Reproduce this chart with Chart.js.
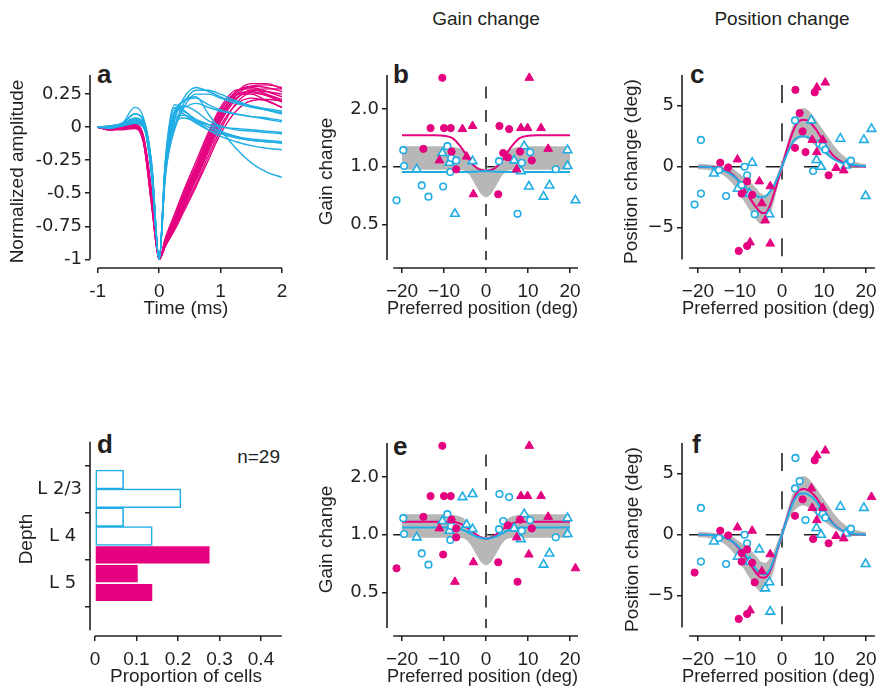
<!DOCTYPE html>
<html>
<head>
<meta charset="utf-8">
<script src="https://cdn.jsdelivr.net/npm/chart.js@4.4.1/dist/chart.umd.min.js"></script>
<style>
  body { margin: 0; background: #fff; width: 888px; height: 692px; overflow: hidden; position: relative;
         font-family: "Liberation Sans", Arial, sans-serif; color: #231f20; }
  canvas { position: absolute; }
  .letter { position: absolute; font-weight: bold; font-size: 26px; line-height: 26px; }
  .head { position: absolute; width: 220px; text-align: center; font-size: 19px; line-height: 22px; }
  .note { position: absolute; font-size: 19px; line-height: 20px; }
</style>
</head>
<body>
<div class="head" style="left:376px; top:8px;">Gain change</div>
<div class="head" style="left:672px; top:8px;">Position change</div>
<div class="letter" style="left:97px; top:61px;">a</div>
<div class="letter" style="left:393px; top:61px;">b</div>
<div class="letter" style="left:690px; top:61px;">c</div>
<div class="letter" style="left:97px; top:431px;">d</div>
<div class="letter" style="left:393px; top:433px;">e</div>
<div class="letter" style="left:692px; top:431px;">f</div>
<div class="note" style="right:608px; top:447px;">n=29</div>

<canvas id="pa"></canvas>
<canvas id="pb"></canvas>
<canvas id="pc"></canvas>
<canvas id="pd"></canvas>
<canvas id="pe"></canvas>
<canvas id="pf"></canvas>

<script>
// ---- panel a: spike waveforms (normalized amplitude vs time, ms)
const aTime = [-1, -0.8, -0.6, -0.4, -0.25, -0.12, 0, 0.1, 0.25, 0.4, 0.6, 0.8, 1.0, 1.25, 1.5, 1.75, 2.0];
const broadSpikes = [
  [0, -0.01, 0.00, 0.02, -0.10, -0.55, -1, -0.90, -0.75, -0.58, -0.38, -0.16, 0.05, 0.24, 0.31, 0.32, 0.30],
  [0, -0.01, 0.01, 0.02, -0.08, -0.50, -1, -0.88, -0.72, -0.55, -0.33, -0.12, 0.09, 0.26, 0.31, 0.30, 0.27],
  [0, 0.00, 0.01, 0.01, -0.11, -0.58, -1, -0.86, -0.70, -0.52, -0.30, -0.08, 0.12, 0.27, 0.30, 0.27, 0.23],
  [0, -0.02, -0.01, 0.00, -0.13, -0.60, -1, -0.90, -0.77, -0.62, -0.43, -0.22, -0.02, 0.18, 0.27, 0.29, 0.29],
  [0, -0.01, 0.00, 0.02, -0.09, -0.52, -1, -0.84, -0.66, -0.48, -0.26, -0.04, 0.15, 0.28, 0.29, 0.25, 0.21],
  [0, -0.02, -0.02, -0.01, -0.12, -0.56, -1, -0.88, -0.74, -0.57, -0.36, -0.14, 0.07, 0.22, 0.26, 0.24, 0.20],
  [0, -0.01, 0.00, 0.01, -0.10, -0.53, -1, -0.87, -0.71, -0.54, -0.32, -0.10, 0.10, 0.24, 0.27, 0.24, 0.19],
  [0, -0.02, -0.01, 0.01, -0.12, -0.59, -1, -0.89, -0.76, -0.60, -0.40, -0.19, 0.01, 0.17, 0.22, 0.20, 0.15],
  [0, -0.01, 0.01, 0.02, -0.08, -0.50, -1, -0.85, -0.68, -0.50, -0.29, -0.06, 0.13, 0.25, 0.25, 0.20, 0.15],
  [0, -0.01, -0.01, 0.00, -0.11, -0.57, -1, -0.90, -0.78, -0.64, -0.45, -0.25, -0.05, 0.12, 0.20, 0.21, 0.20],
  [0, 0.00, 0.00, 0.01, -0.10, -0.54, -1, -0.87, -0.73, -0.56, -0.35, -0.13, 0.08, 0.26, 0.33, 0.33, 0.29],
  [0, -0.02, -0.01, 0.00, -0.12, -0.60, -1, -0.90, -0.76, -0.60, -0.39, -0.17, 0.04, 0.21, 0.28, 0.27, 0.25]
];
const narrowSpikes = [
  [0, 0.01, 0.03, 0.15, 0.06, -0.30, -1, -0.35, 0.05, 0.22, 0.30, 0.27, 0.23, 0.19, 0.16, 0.14, 0.12],
  [0, 0.00, 0.02, 0.10, 0.04, -0.33, -1, -0.38, 0.00, 0.18, 0.28, 0.28, 0.25, 0.20, 0.16, 0.13, 0.10],
  [0, 0.00, 0.02, 0.06, 0.02, -0.30, -1, -0.30, 0.10, 0.20, 0.22, 0.17, 0.13, 0.10, 0.08, 0.06, 0.04],
  [0, 0.01, 0.02, 0.04, 0.01, -0.36, -1, -0.25, 0.17, 0.13, 0.05, 0.02, 0.00, -0.01, -0.02, -0.03, -0.04],
  [0, 0.00, 0.02, 0.05, 0.01, -0.32, -1, -0.28, 0.14, 0.10, 0.03, -0.02, -0.05, -0.08, -0.10, -0.11, -0.12],
  [0, -0.01, 0.01, 0.03, 0.00, -0.38, -1, -0.32, 0.06, 0.09, 0.05, 0.00, -0.04, -0.07, -0.10, -0.11, -0.12],
  [0, 0.00, 0.01, 0.03, -0.01, -0.35, -1, -0.35, 0.02, 0.07, 0.04, -0.02, -0.07, -0.11, -0.14, -0.16, -0.17],
  [0, 0.00, 0.02, 0.07, 0.03, -0.30, -1, -0.33, 0.08, 0.20, 0.23, 0.10, -0.02, -0.16, -0.27, -0.34, -0.38],
  [0, 0.01, 0.03, 0.10, 0.05, -0.28, -1, -0.36, -0.02, 0.15, 0.25, 0.25, 0.22, 0.18, 0.15, 0.13, 0.11],
  [0, 0.00, 0.02, 0.05, 0.02, -0.34, -1, -0.30, 0.10, 0.15, 0.18, 0.15, 0.12, 0.10, 0.08, 0.07, 0.05],
  [0, 0.00, 0.01, 0.04, 0.01, -0.37, -1, -0.27, 0.15, 0.12, 0.06, 0.02, -0.03, -0.07, -0.09, -0.10, -0.11],
  [0, 0.00, 0.02, 0.05, 0.02, -0.31, -1, -0.29, 0.12, 0.16, 0.12, 0.05, 0.01, -0.02, -0.03, -0.04, -0.05]
];
const aXTicks = [-1, 0, 1, 2];
const aYTicks = [0.25, 0, -0.25, -0.5, -0.75, -1];

// ---- panels b, e: gain change vs preferred position (same cells, coloured two ways)
const gainPos = [-10.4, -13.2, -10.0, -8.4, 3.2, 5.5, -14.9, -8.2, -7.1, 4.1, 5.2, 8.1, 10.9, 2.9,
  10.3, -5.6, -3.2, 8.3, 9.9, 13.1, 14.8, -11.1, -4.6, -3.0, 7.3,
  -19.7, -19.5, -21.3, -15.3, -13.7, -10.2, -9.2, -8.3, -7.1, -8.5, 3.1, 7.5, 10.5, 8.5, 16.6,
  -16.5, -10.4, -8.7, -7.4, -3.2, 9.1, 6.7, 8.3, 10.2, 15.1, 13.7, 19.4, 19.4, 21.3];
const gainVal = [2.9, 1.59, 1.59, 1.59, 1.63, 1.57, 1.24, 1.2, 0.97, 1.18, 1.12, 1.2, 1.08, 0.72,
  2.9, 1.57, 1.63, 1.59, 1.59, 1.59, 1.24, 1.08, 1.13, 0.72, 0.97,
  1.22, 1.01, 0.67, 0.80, 0.70, 0.79, 1.28, 1.11, 1.08, 0.94, 1.07, 0.57, 1.19, 1.05, 0.97,
  0.97, 1.18, 1.05, 0.57, 1.07, 1.28, 1.08, 0.95, 0.79, 0.80, 0.70, 1.22, 1.01, 0.67];
const gainMark   = 'oooooooooooooo' + 'ttttttttttt' + 'ooooooooooooooo' + 'tttttttttttttt';
const gainGroupB = 'mmmmmmmmmmmmmm' + 'mmmmmmmmmmm' + 'ccccccccccccccc' + 'cccccccccccccc';
const gainGroupE = 'mmmmccmmmcmmmm' + 'mccmmmmmcmm' + 'ccmccmccmccmccc' + 'cccmccccmccccm';

// fitted curves and shuffled-control band, sampled on this grid (deg)
const fitGrid = [-20, -18, -16, -14, -12, -10, -8, -6, -5, -4, -3, -2, -1, 0, 1, 2, 3, 4, 5, 6, 8, 10, 12, 14, 16, 18, 20];
const gainFitMagB  = [1.46, 1.46, 1.46, 1.46, 1.46, 1.45, 1.41, 1.27, 1.18, 1.09, 1.02, 0.98, 0.96, 0.955, 0.96, 0.98, 1.02, 1.09, 1.18, 1.27, 1.41, 1.45, 1.46, 1.46, 1.46, 1.46, 1.46];
const gainFitCyanB = [0.94, 0.94, 0.94, 0.94, 0.94, 0.94, 0.94, 0.94, 0.94, 0.94, 0.943, 0.946, 0.948, 0.95, 0.948, 0.946, 0.943, 0.94, 0.94, 0.94, 0.94, 0.94, 0.94, 0.94, 0.94, 0.94, 0.94];
const gainFitMagE  = [1.17, 1.17, 1.17, 1.17, 1.17, 1.17, 1.17, 1.14, 1.11, 1.07, 1.03, 0.99, 0.965, 0.955, 0.965, 0.99, 1.03, 1.07, 1.11, 1.14, 1.17, 1.17, 1.17, 1.17, 1.17, 1.17, 1.17];
const gainFitCyanE = [1.09, 1.09, 1.09, 1.09, 1.09, 1.09, 1.09, 1.07, 1.05, 1.02, 0.995, 0.975, 0.96, 0.955, 0.96, 0.975, 0.995, 1.02, 1.05, 1.07, 1.09, 1.09, 1.09, 1.09, 1.09, 1.09, 1.09];
const gainBandLow  = [0.965, 0.965, 0.965, 0.965, 0.965, 0.965, 0.965, 0.962, 0.95, 0.91, 0.84, 0.77, 0.715, 0.695, 0.715, 0.77, 0.84, 0.91, 0.95, 0.962, 0.965, 0.965, 0.965, 0.965, 0.965, 0.965, 0.965];
const gainBandHigh = [1.28, 1.28, 1.28, 1.28, 1.28, 1.28, 1.27, 1.24, 1.2, 1.13, 1.05, 1.0, 0.98, 0.975, 0.98, 1.0, 1.05, 1.13, 1.2, 1.24, 1.27, 1.28, 1.28, 1.28, 1.28, 1.28, 1.28];
const gainTicks = [0.5, 1, 2];
const posTicks = [-20, -10, 0, 10, 20];

// ---- panels c, f: position change vs preferred position
const shiftPos = [3.2, 7.8, -10.3, -8.3, -14.7, -12.8, -8.3, -9.6, -7.1, 4.2, 4.9, 3.1, 5.6, 11.1,
  10.3, 8.3, -7.6, -2.8, -10.6, -5.4, -2.8, -4.8, -4.0, 7.2, 9.7, 8.3, 12.9, 14.7,
  -19.3, -19.3, -20.8, -13.3, -8.9, -8.3, -9.6, -6.5, 3.1, 8.9, 9.7, 10.3, 7.4, 16.4, -15.0,
  -16.2, -7.1, -10.5, -7.7, -3.0, 7.0, 8.2, 9.3, 13.9, 19.5, 21.3, 19.9, 15.2];
const shiftVal = [6.3, 6.1, -6.9, -6.5, 0.33, -0.05, -1.2, -2.2, -2.3, 4.4, 2.9, 1.55, 1.2, -0.7,
  6.9, 6.5, -6.2, -6.3, 0.6, -1.2, -1.6, -3.0, -4.4, 2.2, 2.2, 1.2, -0.1, -0.3,
  2.2, -2.2, -3.1, -2.4, 0.0, -0.7, -1.5, -3.9, 3.8, 1.9, 1.7, 1.4, -0.35, 0.5, -0.27,
  -0.55, 0.33, -1.8, -2.2, -3.9, 3.8, 0.55, 0.0, 2.3, 2.2, 3.1, -2.4, 0.1];
const shiftMark   = 'oooooooooooooo' + 'tttttttttttttt' + 'ooooooooooooooo' + 'ttttttttttttt';
const shiftGroupC = 'mmmmmmmmmmmmmm' + 'mmmmmmmmmmmmmm' + 'ccccccccccccccc' + 'ccccccccccccc';
const shiftGroupF = 'cmmmmmmmmcmmcm' + 'mmmcmcmmcmmmmm' + 'ccmcccmmccccmcc' + 'cmcccmccccmcc';
const shiftFitMagC  = [0, 0, -0.05, -0.2, -0.55, -1.3, -2.4, -3.4, -3.75, -3.8, -3.3, -2.3, -1.2, 0, 1.2, 2.3, 3.2, 3.7, 3.85, 3.8, 3.1, 2.0, 1.0, 0.45, 0.15, 0.05, 0];
const shiftFitCyanC = [0, 0, -0.1, -0.3, -0.65, -1.25, -1.9, -2.4, -2.5, -2.45, -2.1, -1.6, -0.85, 0, 0.9, 1.65, 2.2, 2.45, 2.5, 2.45, 2.05, 1.3, 0.7, 0.35, 0.2, 0.1, 0.05];
const shiftFitMagF  = [0, 0, -0.05, -0.2, -0.5, -1.2, -2.2, -3.2, -3.5, -3.5, -3.1, -2.2, -1.1, 0, 1.15, 2.25, 3.1, 3.6, 3.75, 3.7, 3.1, 2.0, 1.0, 0.4, 0.12, 0.03, 0];
const shiftFitCyanF = [0, 0, -0.05, -0.2, -0.5, -1.1, -2.0, -2.9, -3.2, -3.25, -2.9, -2.1, -1.05, 0, 1.1, 2.1, 2.9, 3.3, 3.4, 3.35, 2.8, 1.8, 0.95, 0.4, 0.15, 0.05, 0];
const shiftBandLow  = [-0.2, -0.25, -0.4, -0.7, -1.3, -2.3, -3.4, -4.4, -4.7, -4.6, -4.0, -3.0, -1.6, -0.4, 0.7, 1.5, 2.0, 2.3, 2.4, 2.3, 1.7, 1.1, 0.6, 0.25, 0.05, -0.05, -0.1];
const shiftBandHigh = [0.2, 0.2, 0.15, 0, -0.1, -0.6, -1.1, -1.8, -2.2, -2.3, -2.0, -1.4, -0.5, 0.5, 1.6, 2.8, 3.8, 4.6, 4.8, 4.7, 3.9, 2.9, 1.9, 1.1, 0.6, 0.35, 0.2];
const shiftTicks = [-5, 0, 5];

// ---- panel d: depth histogram (7 bins, top to bottom)
const binSupra = [1, 2, 3, 4];
const propSupra = [0.069, 0.207, 0.069, 0.138];
const binInfra = [5, 6, 7];
const propInfra = [0.276, 0.103, 0.138];
const depthTicks = [1.5, 4, 6.5];
const depthLabels = ['L 2/3', 'L 4 ', 'L 5 '];
const propTicks = [0, 0.1, 0.2, 0.3, 0.4];

const MAG = '#e4007f', CYAN = '#1fade4', GREY = '#b7b7b7', INK = '#231f20';
const FONT = '"Liberation Sans", Arial, sans-serif';
const YTICK_FONT = '"DejaVu Sans", "Liberation Sans", sans-serif';
const XTICK_FONT = '"Liberation Sans Narrow", "Liberation Sans", Arial, sans-serif';
Chart.defaults.font.family = FONT;
Chart.defaults.color = INK;
Chart.defaults.animation = false;
Chart.defaults.plugins.legend.display = false;
Chart.defaults.plugins.tooltip.enabled = false;

const minus = v => v < 0 ? '\u2212' + Math.abs(v) : String(v);

// axis lines detached from each other, plus dashed reference lines
function frame(cfg) {
  return {
    id: 'frame',
    beforeDatasetsDraw(chart) {
      const { ctx, scales: { x, y } } = chart;
      ctx.save();
      ctx.strokeStyle = INK;
      ctx.lineWidth = 1.6;
      if (cfg.vZero) {
        ctx.setLineDash(cfg.vZero.dash);
        ctx.lineDashOffset = cfg.vZero.offset;
        const px = x.getPixelForValue(0);
        ctx.beginPath();
        ctx.moveTo(px, y.getPixelForValue(cfg.yLine[1]));
        ctx.lineTo(px, y.getPixelForValue(cfg.yLine[0]));
        ctx.stroke();
      }
      if (cfg.hRef) {
        ctx.setLineDash(cfg.hRef.dash);
        ctx.lineDashOffset = cfg.hRef.offset;
        const py = y.getPixelForValue(cfg.hRef.value);
        ctx.beginPath();
        ctx.moveTo(x.getPixelForValue(cfg.xLine[0]), py);
        ctx.lineTo(x.getPixelForValue(cfg.xLine[1]), py);
        ctx.stroke();
      }
      ctx.restore();
    },
    afterDraw(chart) {
      const { ctx, chartArea, scales: { x, y } } = chart;
      ctx.save();
      ctx.strokeStyle = INK;
      ctx.lineWidth = 1.6;
      ctx.beginPath();
      ctx.moveTo(chartArea.left, y.getPixelForValue(cfg.yLine[0]));
      ctx.lineTo(chartArea.left, y.getPixelForValue(cfg.yLine[1]));
      ctx.moveTo(x.getPixelForValue(cfg.xLine[0]), chartArea.bottom);
      ctx.lineTo(x.getPixelForValue(cfg.xLine[1]), chartArea.bottom);
      ctx.stroke();
      ctx.restore();
    }
  };
}

function axis(opts) {
  const vertical = opts.width !== undefined;
  return Object.assign({
    type: 'linear',
    afterBuildTicks: s => { s.ticks = opts.tickValues.map(v => ({ value: v })); },
    afterFit: s => { if (vertical) s.width = opts.width; else s.height = opts.height; },
    grid: { drawOnChartArea: false, drawTicks: true, tickLength: 5, color: INK, lineWidth: 1.5 },
    border: { display: false },
    ticks: { callback: opts.fmt, autoSkip: false, maxRotation: 0, color: INK,
             font: vertical ? { size: 18, family: YTICK_FONT } : { size: 19, family: XTICK_FONT },
             padding: vertical ? 3 : 7 },
    title: { display: true, text: opts.title, font: { size: 19 }, color: INK,
             padding: vertical ? { top: opts.titlePad, bottom: 0 } : { top: 0, bottom: opts.titlePad } }
  }, opts.extra || {});
}

// place a canvas and return layout numbers so the plot area lands where wanted
function place(id, box, area) {
  const cv = document.getElementById(id);
  cv.width = box.w; cv.height = box.h;
  cv.style.left = box.left + 'px'; cv.style.top = box.top + 'px';
  return {
    padding: { left: 0, top: area.t - box.top, right: box.left + box.w - area.r, bottom: 0 },
    yWidth: area.l - box.left,
    xHeight: box.top + box.h - area.b
  };
}

function markerSets(xs, ys, marks, groups) {
  const sets = [];
  [['m', 'o'], ['m', 't'], ['c', 'o'], ['c', 't']].forEach(([g, m]) => {
    const data = [];
    xs.forEach((x, i) => { if (groups[i] === g && marks[i] === m) data.push({ x, y: ys[i] }); });
    sets.push({
      data, showLine: false, clip: false, order: 1,
      pointStyle: m === 'o' ? 'circle' : 'triangle',
      pointRadius: m === 'o' ? (g === 'm' ? 3.6 : 3.3) : 5,
      backgroundColor: g === 'm' ? MAG : '#fff',
      borderColor: g === 'm' ? MAG : CYAN,
      borderWidth: g === 'm' ? 1 : 1.6
    });
  });
  return sets;
}

function curve(ys, color, order) {
  return { data: fitGrid.map((x, i) => ({ x, y: ys[i] })), showLine: true, pointRadius: 0,
           borderColor: color, borderWidth: 2, cubicInterpolationMode: 'monotone', fill: false, order };
}

function band(low, high) {
  return [
    { data: fitGrid.map((x, i) => ({ x, y: low[i] })), showLine: true, pointRadius: 0, borderWidth: 0,
      borderColor: GREY, cubicInterpolationMode: 'monotone', fill: false, order: 10 },
    { data: fitGrid.map((x, i) => ({ x, y: high[i] })), showLine: true, pointRadius: 0, borderWidth: 0,
      borderColor: GREY, backgroundColor: GREY, cubicInterpolationMode: 'monotone', fill: '-1', order: 10 }
  ];
}

// ---- a
(function () {
  const L = place('pa', { left: 0, top: 60, w: 300, h: 262 }, { l: 90, t: 75, r: 282, b: 268 });
  const sets = [];
  narrowSpikes.forEach(tr => sets.push({ data: tr.map((v, i) => ({ x: aTime[i], y: v })), borderColor: CYAN,
    borderWidth: 1.4, pointRadius: 0, cubicInterpolationMode: 'monotone', order: 1 }));
  broadSpikes.forEach(tr => sets.push({ data: tr.map((v, i) => ({ x: aTime[i], y: v })), borderColor: MAG,
    borderWidth: 1.4, pointRadius: 0, cubicInterpolationMode: 'monotone', order: 2 }));
  new Chart(document.getElementById('pa'), {
    type: 'line',
    data: { datasets: sets },
    options: {
      responsive: false, layout: { padding: L.padding },
      scales: {
        x: axis({ tickValues: aXTicks, fmt: v => String(v), title: 'Time (ms)', height: L.xHeight, titlePad: 1.6, extra: { min: -1.126, max: 2.0 } }),
        y: axis({ tickValues: aYTicks, fmt: v => String(v), title: 'Normalized amplitude', width: L.yWidth, titlePad: 6, extra: { min: -1.066, max: 0.395 } })
      }
    },
    plugins: [frame({ xLine: [-1, 2], yLine: [-1, 0.395] })]
  });
})();

// ---- b / e
function gainPanel(id, top, groups, fitMag, fitCyan) {
  const L = place(id, { left: 300, top: top, w: 290, h: 262 }, { l: 387, t: top + 15, r: 578, b: top + 208 });
  new Chart(document.getElementById(id), {
    type: 'scatter',
    data: { datasets: [
      ...markerSets(gainPos, gainVal, gainMark, groups),
      curve(fitCyan, CYAN, 5), curve(fitMag, MAG, 5),
      ...band(gainBandLow, gainBandHigh)
    ] },
    options: {
      responsive: false, layout: { padding: L.padding },
      scales: {
        x: axis({ tickValues: posTicks, fmt: minus, title: 'Preferred position (deg)', height: L.xHeight, titlePad: 1.6, extra: { min: -23.57, max: 21.9 } }),
        y: axis({ tickValues: gainTicks, fmt: v => v.toFixed(1), title: 'Gain change', width: L.yWidth, titlePad: 15.6,
                  extra: { type: 'logarithmic', min: 0.298, max: 3.0 } })
      }
    },
    plugins: [frame({ xLine: [-22.1, 21.9], yLine: [0.328, 3.0],
                      vZero: { dash: [12, 11.5], offset: 12 }, hRef: { value: 1, dash: [12, 11.5], offset: 0 } })]
  });
}
gainPanel('pb', 60, gainGroupB, gainFitMagB, gainFitCyanB);
gainPanel('pe', 428, gainGroupE, gainFitMagE, gainFitCyanE);

// ---- c / f
function shiftPanel(id, top, groups, fitMag, fitCyan, titlePad) {
  const L = place(id, { left: 590, top: top, w: 298, h: 262 }, { l: 682, t: top + 15, r: 875, b: top + 208 });
  new Chart(document.getElementById(id), {
    type: 'scatter',
    data: { datasets: [
      ...markerSets(shiftPos, shiftVal, shiftMark, groups),
      curve(fitCyan, CYAN, 5), curve(fitMag, MAG, 5),
      ...band(shiftBandLow, shiftBandHigh)
    ] },
    options: {
      responsive: false, layout: { padding: L.padding },
      scales: {
        x: axis({ tickValues: posTicks, fmt: minus, title: 'Preferred position (deg)', height: L.xHeight, titlePad: 1.6, extra: { min: -23.8, max: 22.14 } }),
        y: axis({ tickValues: shiftTicks, fmt: minus, title: 'Position change (deg)', width: L.yWidth, titlePad: titlePad, extra: { min: -8.3, max: 7.52 } })
      }
    },
    plugins: [frame({ xLine: [-22.1, 22.1], yLine: [-7.6, 7.52],
                      vZero: { dash: [18, 20.3], offset: 28.3 }, hRef: { value: 0, dash: [17, 21.3], offset: 0 } })]
  });
}
shiftPanel('pc', 60, shiftGroupC, shiftFitMagC, shiftFitCyanC, 30.6);
shiftPanel('pf', 428, shiftGroupF, shiftFitMagF, shiftFitCyanF, 31.6);

// ---- d
(function () {
  const L = place('pd', { left: 0, top: 428, w: 300, h: 262 }, { l: 90, t: 442, r: 282, b: 636 });
  new Chart(document.getElementById('pd'), {
    type: 'bar',
    data: { datasets: [
      { data: binSupra.map((b, i) => ({ x: propSupra[i], y: b })), backgroundColor: '#fff', borderColor: CYAN,
        borderWidth: 1.6, borderSkipped: false, grouped: false, barPercentage: 1, categoryPercentage: 1 },
      { data: binInfra.map((b, i) => ({ x: propInfra[i], y: b })), backgroundColor: MAG, borderWidth: 0,
        grouped: false, barPercentage: 0.91, categoryPercentage: 1 }
    ] },
    options: {
      responsive: false, indexAxis: 'y', layout: { padding: L.padding },
      scales: {
        x: axis({ tickValues: propTicks, fmt: v => String(v), title: 'Proportion of cells', height: L.xHeight, titlePad: 1.6, extra: { min: -0.012, max: 0.4506 } }),
        y: axis({ tickValues: depthTicks, fmt: (v, i) => depthLabels[i], title: 'Depth', width: L.yWidth, titlePad: 15.6,
                  extra: { min: -0.99, max: 9.31, reverse: true, offset: false } })
      }
    },
    plugins: [frame({ xLine: [0, 0.45], yLine: [-1, 9] })]
  });
})();
</script>
</body>
</html>
